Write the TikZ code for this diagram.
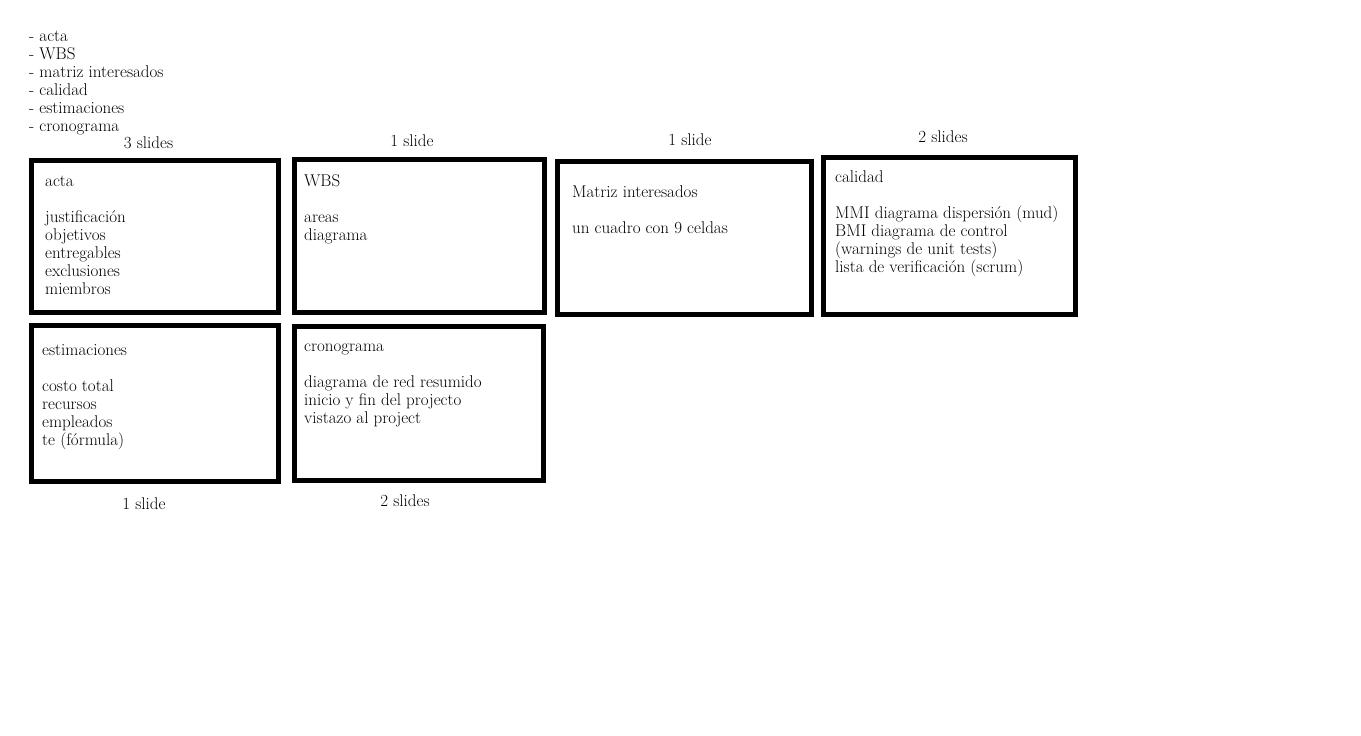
\documentclass[tikz,border=0pt]{standalone}
\begin{document}
\begin{tikzpicture}[x=1pt,y=-1pt,
  box/.style={draw=black,line width=5pt,inner sep=0pt,anchor=north west},
  txt/.style={anchor=base west,inner sep=0pt,align=left,font=\fontsize{17}{18}\selectfont},
  lbl/.style={anchor=base,inner sep=0pt,font=\fontsize{17}{18}\selectfont}]
\useasboundingbox[fill=white] (0,0) rectangle (1361,736);
% top list (anchored at the baseline of its last line)
\node[txt] (list) at (29,131) {- acta\\- WBS\\- matriz interesados\\- calidad\\- estimaciones\\- cronograma};
% boxes (anchored at their outer top-left corner)
\node[box,minimum width=247pt,minimum height=152pt] (acta) at (29,158) {};
\node[box,minimum width=250pt,minimum height=153pt] (wbs) at (292,157) {};
\node[box,minimum width=254pt,minimum height=153pt] (matriz) at (555,159) {};
\node[box,minimum width=252pt,minimum height=157pt] (calidad) at (821,155) {};
\node[box,minimum width=247pt,minimum height=156pt] (estim) at (29,323) {};
\node[box,minimum width=249pt,minimum height=154pt] (crono) at (292,324) {};
% contents (anchored at the baseline of their last line)
\node[txt] (tacta) at (45,294) {acta\\[18pt]justificación\\objetivos\\entregables\\exclusiones\\miembros};
\node[txt] (twbs) at (304,240) {WBS\\[18pt]areas\\diagrama};
\node[txt] (tmatriz) at (572,233) {Matriz interesados\\[18pt]un cuadro con 9 celdas};
\node[txt] (tcalidad) at (835,272) {calidad\\[18pt]MMI diagrama dispersión (mud)\\BMI diagrama de control\\(warnings de unit tests)\\lista de verificación (scrum)};
\node[txt] (testim) at (42,445) {estimaciones\\[18pt]costo total\\recursos\\empleados\\te (fórmula)};
\node[txt] (tcrono) at (304,423) {cronograma\\[18pt]diagrama de red resumido\\inicio y fin del projecto\\vistazo al project};
% slide counts
\node[lbl] (s1) at (148.5,148) {3 slides};
\node[lbl] (s2) at (412,146) {1 slide};
\node[lbl] (s3) at (690,145) {1 slide};
\node[lbl] (s4) at (943,142) {2 slides};
\node[lbl] (s5) at (144,509) {1 slide};
\node[lbl] (s6) at (405,506) {2 slides};
\end{tikzpicture}
\end{document}
